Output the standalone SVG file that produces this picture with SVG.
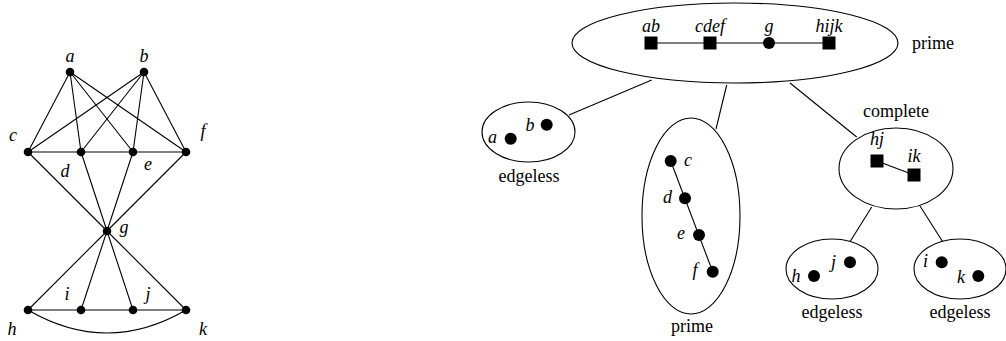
<svg xmlns="http://www.w3.org/2000/svg" width="1006" height="341" viewBox="0 0 1006 341">
<style>
.ln{stroke:#000;stroke-width:1.1;fill:none}
.v{fill:#000}
</style>
<rect width="1006" height="341" fill="#fff"/>
<g id="connectors">
<path class="ln" d="M70 72L28 152M70 72L81 152M70 72L133 152M70 72L186 152M144 72L28 152M144 72L81 152M144 72L133 152M144 72L186 152M28 152L186 152M28 152L107 231M81 152L107 231M133 152L107 231M186 152L107 231M107 231L28 310M107 231L81 310M107 231L133 310M107 231L186 310M28 310L186 310M28 310Q107 356 186 310"/>
<path class="ln" d="M651 43L829 43"/>
<path class="ln" d="M651.7 80L569 115M726.7 85L716 129M790 83L856.7 137M871.7 207L850 241.7M920 206L942.7 241.7"/>
<path class="ln" d="M670.7 161L712.7 271.7"/>
<path class="ln" d="M877 161L914 175"/>
</g>
<g font-family="Liberation Serif" font-style="italic" font-size="18" text-anchor="middle" fill="#000">
<g id="a"><circle class="v" cx="70" cy="72" r="4.3"/><text x="70" y="62">a</text></g>
<g id="b"><circle class="v" cx="144" cy="72" r="4.3"/><text x="144" y="62">b</text></g>
<g id="c"><circle class="v" cx="28" cy="152" r="4.3"/><text x="13" y="141">c</text></g>
<g id="d"><circle class="v" cx="81" cy="152" r="4.3"/><text x="65" y="177">d</text></g>
<g id="e"><circle class="v" cx="133" cy="152" r="4.3"/><text x="148" y="170">e</text></g>
<g id="f"><circle class="v" cx="186" cy="152" r="4.3"/><text x="203" y="137">f</text></g>
<g id="g"><circle class="v" cx="107" cy="231" r="4.3"/><text x="124" y="233">g</text></g>
<g id="h"><circle class="v" cx="28" cy="310" r="4.3"/><text x="12" y="335">h</text></g>
<g id="i"><circle class="v" cx="81" cy="310" r="4.3"/><text x="67" y="300">i</text></g>
<g id="j"><circle class="v" cx="133" cy="310" r="4.3"/><text x="148" y="300">j</text></g>
<g id="k"><circle class="v" cx="186" cy="310" r="4.3"/><text x="203" y="335">k</text></g>

<g id="root">
<ellipse class="ln" cx="735" cy="43" rx="163" ry="40"/>
<text x="912" y="49" text-anchor="start" font-style="normal">prime</text>
<rect class="v" x="644.5" y="36.5" width="13" height="13"/><text x="651" y="32">ab</text>
<rect class="v" x="703.5" y="36.5" width="13" height="13"/><text x="710" y="32">cdef</text>
<circle class="v" cx="769" cy="43" r="6"/><text x="769" y="32">g</text>
<rect class="v" x="822.5" y="36.5" width="13" height="13"/><text x="829" y="32">hijk</text>
</g>
<g id="ab-node">
<ellipse class="ln" cx="528.5" cy="132" rx="46.5" ry="30"/>
<circle class="v" cx="510.7" cy="138.7" r="6"/><text x="492.5" y="143">a</text>
<circle class="v" cx="546.7" cy="124.7" r="6"/><text x="530" y="131">b</text>
<text x="529" y="182" font-style="normal">edgeless</text>
</g>
<g id="cdef-node">
<ellipse class="ln" cx="691" cy="216" rx="49" ry="98"/>
<circle class="v" cx="670.7" cy="161" r="6"/><text x="688" y="166">c</text>
<circle class="v" cx="685" cy="198.3" r="6"/><text x="667.5" y="203">d</text>
<circle class="v" cx="699" cy="235" r="6"/><text x="681" y="239">e</text>
<circle class="v" cx="712.7" cy="271.7" r="6"/><text x="695" y="276">f</text>
<text x="692" y="332" font-style="normal">prime</text>
</g>
<g id="hijk-node">
<ellipse class="ln" cx="896" cy="168.5" rx="57" ry="40.5"/>
<text x="896" y="117" font-style="normal">complete</text>
<rect class="v" x="870.5" y="154.5" width="13" height="13"/><text x="877" y="145">hj</text>
<rect class="v" x="907.5" y="168.5" width="13" height="13"/><text x="914" y="161.5">ik</text>
</g>
<g id="hj-node">
<ellipse class="ln" cx="832" cy="269" rx="46" ry="30"/>
<circle class="v" cx="814" cy="276" r="6"/><text x="796" y="282">h</text>
<circle class="v" cx="850" cy="262.3" r="6"/><text x="833.5" y="268">j</text>
<text x="832" y="318" font-style="normal">edgeless</text>
</g>
<g id="ik-node">
<ellipse class="ln" cx="960" cy="269" rx="46" ry="30"/>
<circle class="v" cx="941.7" cy="262.3" r="6"/><text x="925.5" y="267">i</text>
<circle class="v" cx="978.3" cy="276" r="6"/><text x="961" y="283">k</text>
<text x="960" y="318" font-style="normal">edgeless</text>
</g>
</g>
</svg>
